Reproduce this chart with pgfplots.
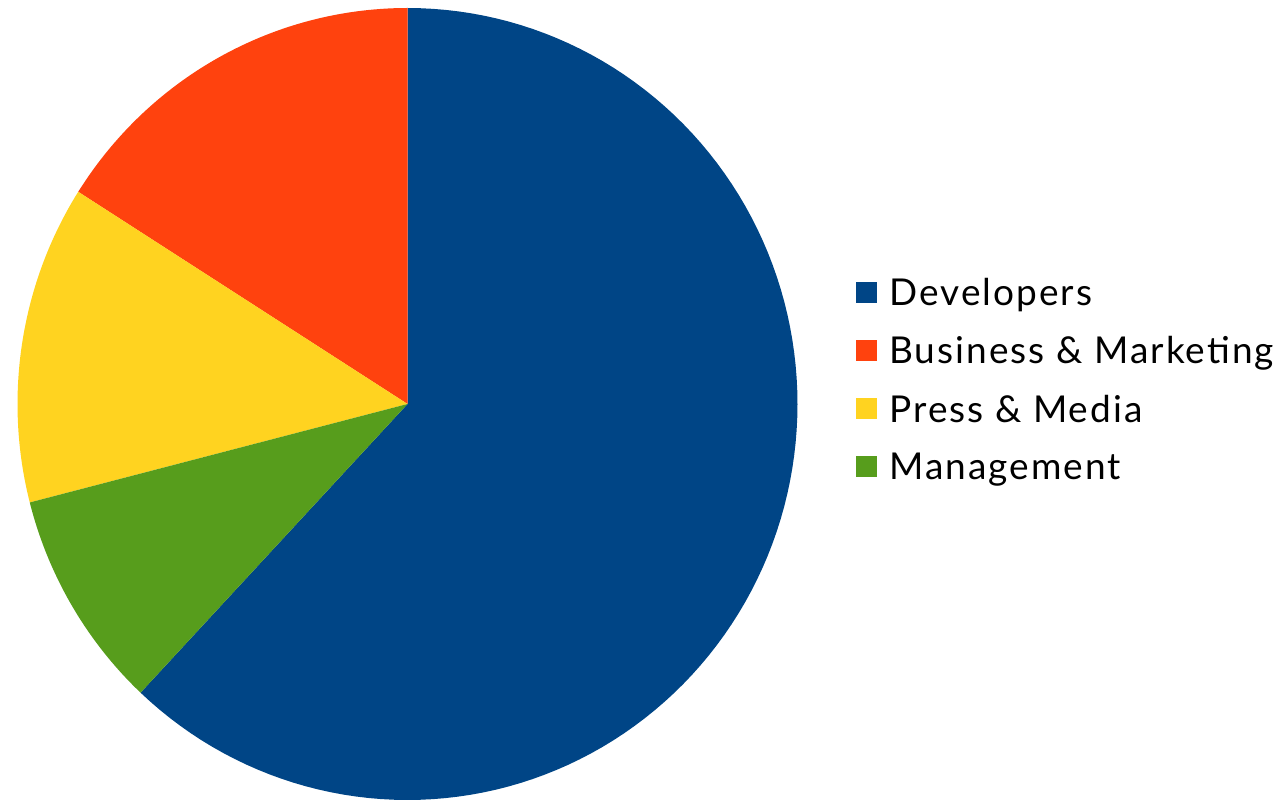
\documentclass[border=0pt]{standalone}
\usepackage{fontspec}
\setmainfont{Lato}[LetterSpace=5.5]
\usepackage{pgfplots}
\pgfplotsset{compat=1.18}
\definecolor{devblue}{HTML}{004586}
\definecolor{busred}{HTML}{FF420E}
\definecolor{pressyel}{HTML}{FFD320}
\definecolor{mangreen}{HTML}{579D1C}
% shares in percent
\def\vDev{62}
\def\vBus{16}
\def\vPress{13}
\def\vMan{9}
\pgfmathsetmacro\aA{90}
\pgfmathsetmacro\aB{90-3.6*\vDev}
\pgfmathsetmacro\aC{\aB-3.6*\vMan}
\pgfmathsetmacro\aD{\aC-3.6*\vPress}
\pgfmathsetmacro\aE{\aD-3.6*\vBus}
\def\cx{407.5}
\def\cy{398}
\def\rx{390}
\def\ry{396}
\begin{document}
\begin{tikzpicture}
\begin{axis}[
  scale only axis, width=641.5pt, height=401pt,
  xmin=0, xmax=1283, ymin=0, ymax=802,
  hide axis, clip=false,
  legend image code/.code={\fill[#1] (0pt,-4.5pt) rectangle (10.5pt,6pt);},
  legend style={at={(axis cs:850,532)}, anchor=north west, draw=none, fill=none,
    font=\fontsize{18.5}{18.5}\selectfont, row sep=10pt,
    /tikz/every odd column/.append style={column sep=4pt}},
  legend cell align=left,
]
\addplot[fill=devblue, draw=none, domain=\aB:\aA, samples=120, variable=\t]
  ({\cx+\rx*cos(\t)},{\cy+\ry*sin(\t)}) -- (axis cs:\cx,\cy) -- cycle;
\addlegendentry{Developers}
\addplot[fill=busred, draw=none, domain=\aE:\aD, samples=60, variable=\t]
  ({\cx+\rx*cos(\t)},{\cy+\ry*sin(\t)}) -- (axis cs:\cx,\cy) -- cycle;
\addlegendentry{Business \& Marketing}
\addplot[fill=pressyel, draw=none, domain=\aD:\aC, samples=60, variable=\t]
  ({\cx+\rx*cos(\t)},{\cy+\ry*sin(\t)}) -- (axis cs:\cx,\cy) -- cycle;
\addlegendentry{Press \& Media}
\addplot[fill=mangreen, draw=none, domain=\aC:\aB, samples=60, variable=\t]
  ({\cx+\rx*cos(\t)},{\cy+\ry*sin(\t)}) -- (axis cs:\cx,\cy) -- cycle;
\addlegendentry{Management}
\end{axis}
\pgfresetboundingbox
\path (0,0) rectangle (641.5pt,401pt);
\end{tikzpicture}
\end{document}
